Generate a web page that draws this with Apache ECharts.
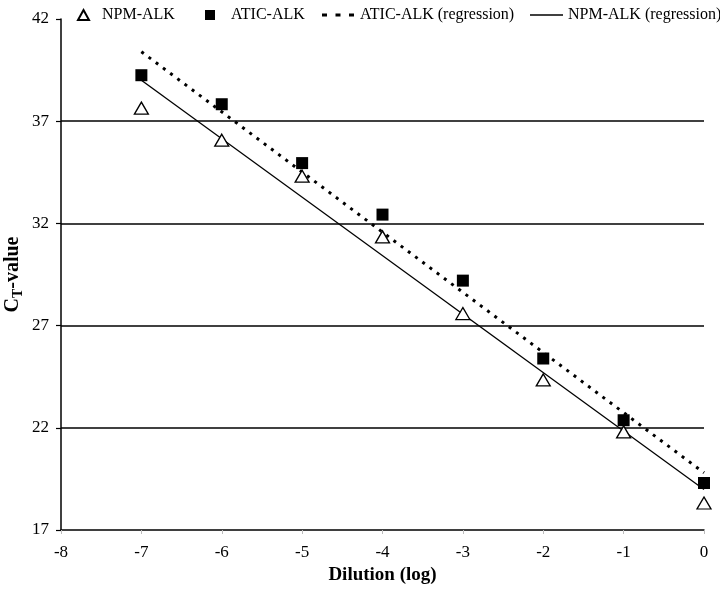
<!DOCTYPE html>
<html>
<head>
<meta charset="utf-8">
<script src="https://cdn.jsdelivr.net/npm/echarts@6/dist/echarts.min.js"></script>
<style>html,body{margin:0;padding:0;background:#fff}#c{width:720px;height:603px}</style>
</head>
<body>
<div id="c"></div>
<script>
const dilution = [-7, -6, -5, -4, -3, -2, -1, 0];
const npmAlk = [37.64, 36.07, 34.31, 31.34, 27.59, 24.34, 21.8, 18.32];
const aticAlk = [39.25, 37.83, 34.95, 32.43, 29.2, 25.39, 22.37, 19.3];
const regX = [-7, 0];
const aticReg = [40.4, 19.8];
const npmReg = [39.0, 18.98];
const gridLevels = [22, 27, 32, 37];
const xTicks = [-8, -7, -6, -5, -4, -3, -2, -1, 0];
const yTicks = [17, 22, 27, 32, 37, 42];
const seriesNames = ['NPM-ALK', 'ATIC-ALK', 'ATIC-ALK (regression)', 'NPM-ALK (regression)'];

const FONT = '"Liberation Serif", "Times New Roman", serif';
const pair = (xs, ys) => xs.map((x, i) => [x, ys[i]]);

function legendItem(name, left, w, h, icon, padLeft) {
  return {
    show: true, orient: 'horizontal', left: left, top: 6, padding: 0,
    itemWidth: w, itemHeight: h, icon: icon,
    selectedMode: false,
    textStyle: {fontFamily: FONT, fontSize: 16, color: '#000', lineHeight: 18, padding: [0, 0, 0, padLeft]},
    data: [name]
  };
}

const chart = echarts.init(document.getElementById('c'), null, {renderer: 'canvas'});
chart.setOption({
  animation: false,
  backgroundColor: '#fff',
  textStyle: {fontFamily: FONT, color: '#000'},
  legend: [
    legendItem(seriesNames[0], 77, 11, 10, 'triangle', 8),
    legendItem(seriesNames[1], 205, 10, 10, 'rect', 11),
    legendItem(seriesNames[2], 322, 32, 3, 'path://M0,0h5v3h-5zM13.5,0h5v3h-5zM27,0h5v3h-5z', 1),
    legendItem(seriesNames[3], 530, 33, 1.5, 'rect', 0)
  ],
  grid: {left: 61, right: 16, top: 19, bottom: 73, containLabel: false, outerBoundsMode: 'none'},
  xAxis: {
    type: 'value', min: xTicks[0], max: xTicks[xTicks.length - 1], interval: 1,
    name: 'Dilution (log)', nameLocation: 'middle', nameGap: 32,
    nameTextStyle: {fontFamily: FONT, fontSize: 19, fontWeight: 'bold', color: '#000'},
    axisLine: {onZero: false, lineStyle: {color: '#000', width: 1.5}},
    axisTick: {show: true, length: 4, lineStyle: {color: '#bbb'}},
    axisLabel: {fontFamily: FONT, fontSize: 17, color: '#000', margin: 14},
    splitLine: {show: false}
  },
  yAxis: {
    type: 'value', min: yTicks[0], max: yTicks[yTicks.length - 1], interval: 5,
    name: '{a|C}{b|T}{a|-value}', nameLocation: 'middle', nameGap: 36, nameRotate: 90,
    nameMoveOverlap: false,
    nameTextStyle: {
      rich: {
        a: {fontFamily: FONT, fontSize: 20, fontWeight: 'bold', color: '#000', lineHeight: 24},
        b: {fontFamily: FONT, fontSize: 14, fontWeight: 'bold', color: '#000', lineHeight: 24, padding: [10, 0, 0, 0]}
      }
    },
    axisLine: {show: true, onZero: false, lineStyle: {color: '#000', width: 1.5}},
    axisTick: {show: true, length: 5, lineStyle: {color: '#000', width: 1.2}},
    axisLabel: {fontFamily: FONT, fontSize: 17, color: '#000', margin: 12},
    splitLine: {show: false}
  },
  series: [
    {
      name: seriesNames[0], type: 'scatter', symbol: 'triangle', symbolSize: [14, 12],
      itemStyle: {color: '#fff', borderColor: '#000', borderWidth: 1.3, opacity: 1},
      data: pair(dilution, npmAlk), z: 5,
      markLine: {
        silent: true, symbol: 'none', label: {show: false},
        lineStyle: {color: '#000', width: 1.5, type: 'solid'},
        data: gridLevels.map(v => ({yAxis: v}))
      }
    },
    {
      name: seriesNames[1], type: 'scatter', symbol: 'rect', symbolSize: 12,
      itemStyle: {color: '#000', opacity: 1},
      data: pair(dilution, aticAlk), z: 6
    },
    {
      name: seriesNames[2], type: 'line', symbol: 'none', showSymbol: false,
      lineStyle: {color: '#000', width: 3, type: [3, 6]},
      itemStyle: {color: '#000'},
      data: pair(regX, aticReg), z: 3
    },
    {
      name: seriesNames[3], type: 'line', symbol: 'none', showSymbol: false,
      lineStyle: {color: '#000', width: 1.3, type: 'solid'},
      itemStyle: {color: '#000'},
      data: pair(regX, npmReg), z: 3
    }
  ]
});
</script>
</body>
</html>
